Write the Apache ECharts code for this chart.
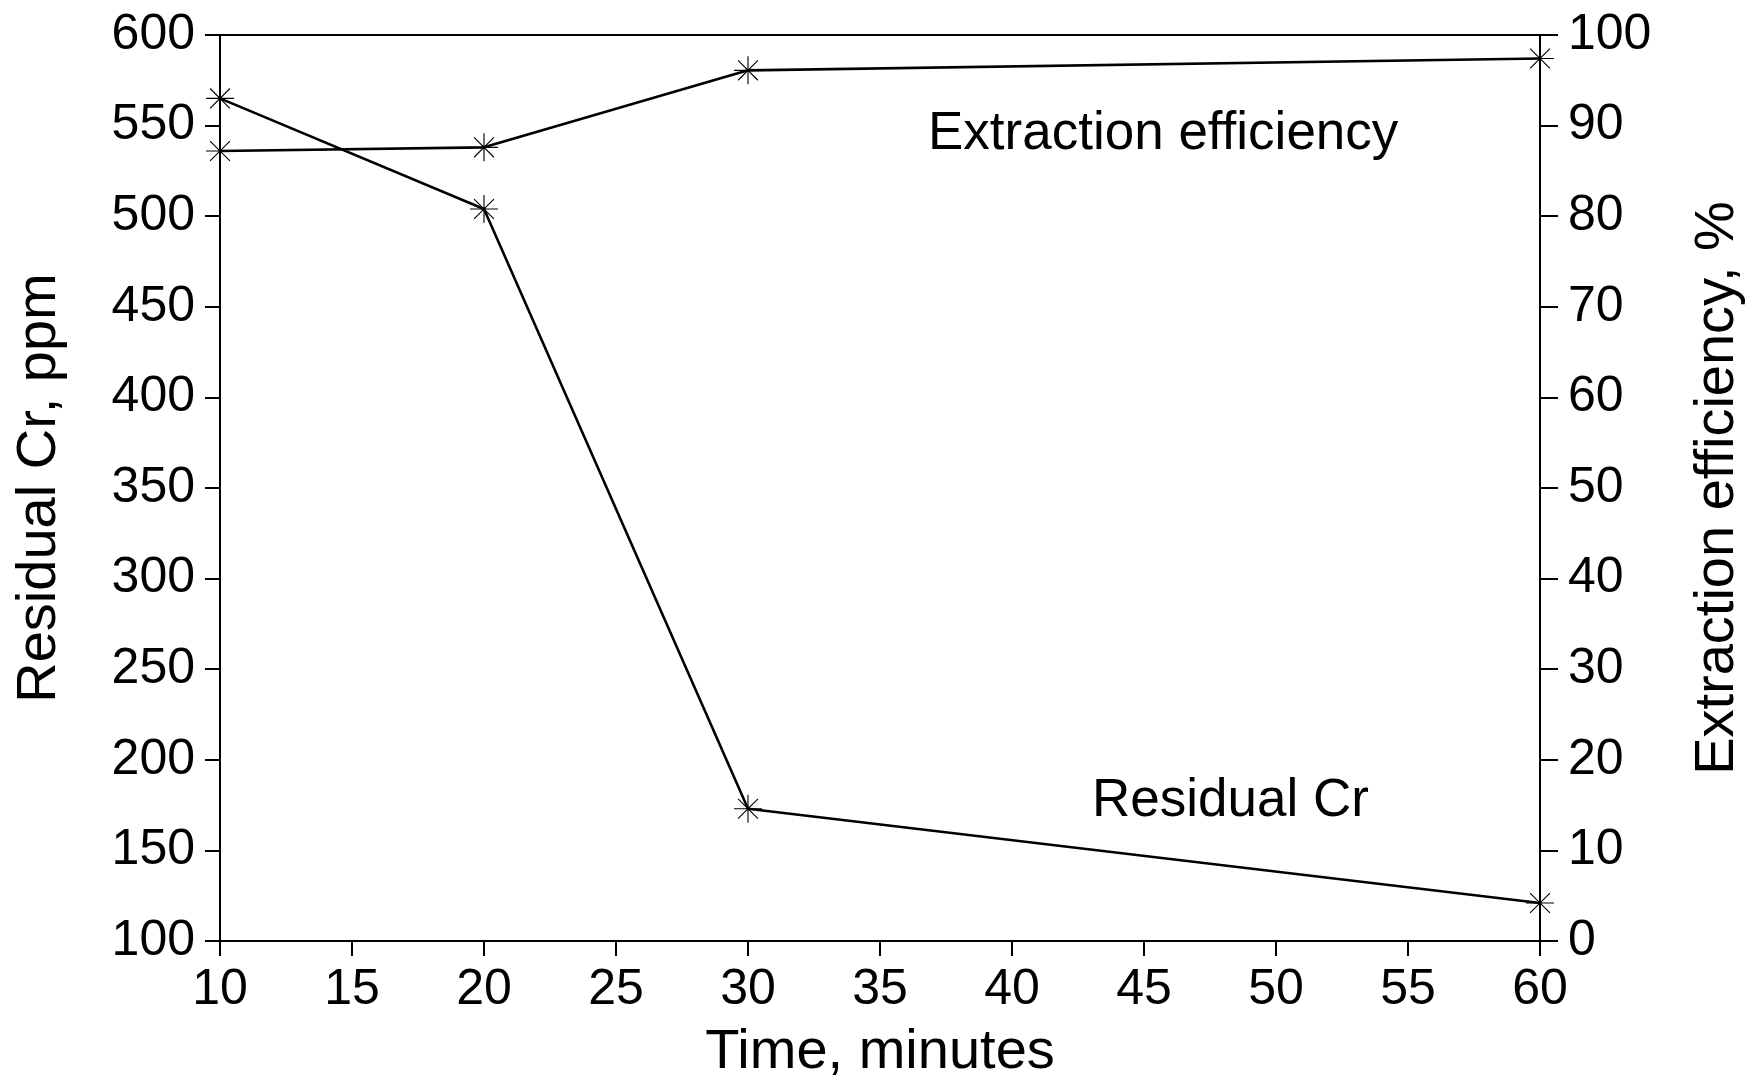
<!DOCTYPE html>
<html>
<head>
<meta charset="utf-8">
<script src="https://cdn.jsdelivr.net/npm/echarts@6/dist/echarts.min.js"></script>
<style>
html,body{margin:0;padding:0;background:#fff;}
#chart{width:1754px;height:1086px;}
</style>
</head>
<body>
<div id="chart"></div>
<script>
const timeMinutes = [10, 20, 30, 60];
const residualCr = [565, 504, 173, 121];
const extractionEff = [87.2, 87.6, 96.1, 97.4];
const xTicks = {min: 10, max: 60, interval: 5};
const yLeftTicks = {min: 100, max: 600, interval: 50};
const yRightTicks = {min: 0, max: 100, interval: 10};

const FONT = '"Liberation Sans", Arial, Helvetica, sans-serif';
const star = 'path://M0 48 L100 48 L100 52 L0 52 Z M48 0 L52 0 L52 100 L48 100 Z M13.2 16 L16 13.2 L86.8 84 L84 86.8 Z M84 13.2 L86.8 16 L16 86.8 L13.2 84 Z';

const chart = echarts.init(document.getElementById('chart'), null, {renderer: 'canvas'});

function axisBase(tickLen, labelMargin) {
  return {
    axisLine: {show: true, lineStyle: {color: '#000', width: 2}},
    axisTick: {show: true, inside: false, length: tickLen, lineStyle: {color: '#000', width: 2}},
    splitLine: {show: false},
    axisLabel: {color: '#000', fontSize: 50, fontFamily: FONT, margin: labelMargin},
    nameTextStyle: {color: '#000', fontSize: 56, fontFamily: FONT}
  };
}

chart.setOption({
  backgroundColor: '#fff',
  animation: false,
  grid: {left: 220, right: 212, top: 35, bottom: 140, show: true, borderColor: '#000', borderWidth: 2, backgroundColor: 'transparent'},
  xAxis: Object.assign(axisBase(15, 24), {
    type: 'value', min: xTicks.min, max: xTicks.max, interval: xTicks.interval,
    name: 'Time, minutes', nameLocation: 'middle', nameGap: 84
  }),
  yAxis: [
    Object.assign(axisBase(15, 25), {
      type: 'value', position: 'left', min: yLeftTicks.min, max: yLeftTicks.max, interval: yLeftTicks.interval,
      name: 'Residual Cr, ppm', nameLocation: 'middle', nameGap: 152
    }),
    Object.assign(axisBase(18, 28), {
      type: 'value', position: 'right', min: yRightTicks.min, max: yRightTicks.max, interval: yRightTicks.interval,
      name: 'Extraction efficiency, %', nameLocation: 'middle', nameGap: 150
    })
  ],
  series: [
    {
      name: 'Residual Cr', type: 'line', yAxisIndex: 0,
      data: timeMinutes.map((t, i) => [t, residualCr[i]]),
      lineStyle: {color: '#000', width: 2.6},
      itemStyle: {color: '#000'},
      symbol: star, symbolSize: 28, showAllSymbol: true
    },
    {
      name: 'Extraction efficiency', type: 'line', yAxisIndex: 1,
      data: timeMinutes.map((t, i) => [t, extractionEff[i]]),
      lineStyle: {color: '#000', width: 2.6},
      itemStyle: {color: '#000'},
      symbol: star, symbolSize: 28, showAllSymbol: true
    }
  ],
  graphic: [
    {type: 'text', left: 928, top: 108, style: {text: 'Extraction efficiency', fill: '#000', font: '53px ' + FONT}},
    {type: 'text', left: 1092, top: 775, style: {text: 'Residual Cr', fill: '#000', font: '53px ' + FONT}}
  ]
});
</script>
</body>
</html>
